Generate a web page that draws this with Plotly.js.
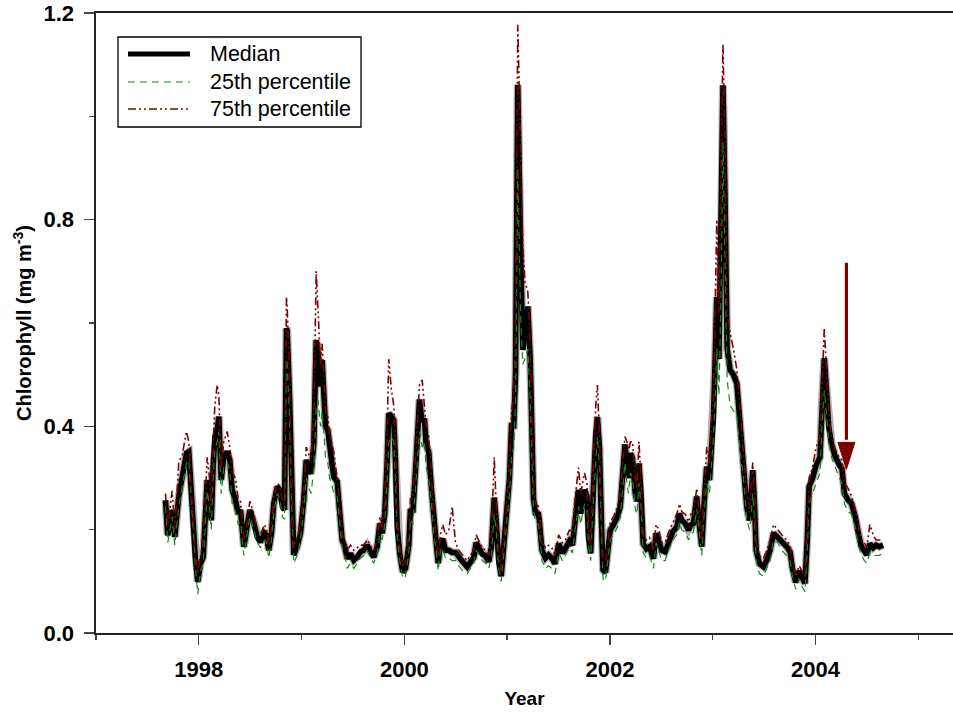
<!DOCTYPE html>
<html>
<head>
<meta charset="utf-8">
<script src="https://cdn.plot.ly/plotly-3.0.1.min.js"></script>
<style>
html,body{margin:0;padding:0;background:#fff;}
#chart{width:953px;height:713px;}
</style>
</head>
<body>
<div id="chart"></div>
<script>
// ---- Data ----
const years = [
1997.676,1997.698,1997.741,1997.767,1997.805,1997.839,1997.880,1997.903,1997.936,1997.968,
1997.990,1998.017,1998.043,1998.065,1998.082,1998.104,1998.121,1998.140,1998.156,1998.179,
1998.195,1998.218,1998.243,1998.276,1998.302,1998.325,1998.357,1998.383,1998.406,1998.438,
1998.464,1998.496,1998.529,1998.568,1998.600,1998.639,1998.659,1998.681,1998.707,1998.730,
1998.763,1998.788,1998.814,1998.834,1998.853,1998.860,1998.882,1998.902,1998.924,1998.957,
1998.989,1999.021,1999.045,1999.070,1999.093,1999.119,1999.142,1999.161,1999.184,1999.200,
1999.216,1999.233,1999.255,1999.272,1999.291,1999.313,1999.346,1999.369,1999.395,1999.420,
1999.444,1999.476,1999.508,1999.541,1999.573,1999.605,1999.638,1999.670,1999.702,1999.735,
1999.761,1999.784,1999.809,1999.833,1999.848,1999.874,1999.897,1999.913,1999.930,1999.955,
1999.984,2000.011,2000.043,2000.059,2000.082,2000.108,2000.147,2000.173,2000.195,2000.212,
2000.237,2000.264,2000.286,2000.309,2000.329,2000.351,2000.374,2000.400,2000.432,2000.465,
2000.497,2000.529,2000.568,2000.611,2000.643,2000.675,2000.698,2000.724,2000.757,2000.789,
2000.821,2000.847,2000.874,2000.893,2000.918,2000.942,2000.967,2001.000,2001.022,2001.042,
2001.064,2001.081,2001.103,2001.130,2001.152,2001.173,2001.201,2001.224,2001.239,2001.256,
2001.275,2001.304,2001.313,2001.338,2001.373,2001.402,2001.434,2001.465,2001.501,2001.538,
2001.567,2001.606,2001.635,2001.660,2001.694,2001.715,2001.752,2001.776,2001.791,2001.812,
2001.841,2001.862,2001.878,2001.898,2001.915,2001.932,2001.956,2001.981,2002.002,2002.034,
2002.073,2002.100,2002.125,2002.146,2002.165,2002.180,2002.199,2002.219,2002.246,2002.262,
2002.282,2002.301,2002.323,2002.355,2002.384,2002.407,2002.423,2002.449,2002.475,2002.504,
2002.537,2002.569,2002.611,2002.650,2002.676,2002.698,2002.732,2002.764,2002.786,2002.812,
2002.844,2002.871,2002.893,2002.916,2002.941,2002.968,2002.990,2003.007,2003.023,2003.039,
2003.060,2003.080,2003.099,2003.119,2003.140,2003.169,2003.201,2003.234,2003.267,2003.299,
2003.331,2003.357,2003.377,2003.389,2003.406,2003.422,2003.454,2003.493,2003.525,2003.558,
2003.591,2003.629,2003.671,2003.720,2003.753,2003.775,2003.807,2003.840,2003.868,2003.897,
2003.919,2003.937,2003.970,2004.006,2004.043,2004.062,2004.085,2004.104,2004.128,2004.155,
2004.192,2004.232,2004.257,2004.281,2004.317,2004.349,2004.386,2004.419,2004.446,2004.475,
2004.498,2004.528,2004.560,2004.588,2004.619,2004.657
];

const median = [
.257,.189,.238,.186,.264,.302,.348,.351,.231,.141,
.099,.134,.147,.231,.296,.264,.218,.322,.380,.393,
.419,.296,.341,.351,.335,.277,.257,.231,.238,.167,
.193,.238,.218,.186,.176,.193,.189,.160,.193,.251,
.283,.277,.244,.238,.590,.585,.464,.270,.151,.167,
.193,.257,.335,.315,.309,.367,.567,.541,.477,.528,
.451,.399,.393,.354,.335,.302,.293,.238,.180,.167,
.144,.154,.141,.147,.157,.160,.170,.157,.147,.167,
.212,.193,.231,.335,.425,.419,.412,.335,.205,.154,
.118,.125,.170,.240,.233,.313,.452,.408,.415,.364,
.350,.277,.211,.175,.135,.175,.182,.160,.160,.156,
.156,.146,.138,.128,.138,.146,.175,.167,.153,.149,
.138,.167,.262,.218,.138,.110,.167,.240,.299,.401,
.401,.500,1.061,.750,.548,.580,.632,.530,.380,.260,
.232,.230,.218,.160,.145,.151,.145,.134,.173,.155,
.164,.178,.170,.225,.277,.231,.277,.265,.186,.154,
.300,.386,.418,.357,.228,.122,.117,.165,.199,.209,
.225,.245,.305,.365,.320,.300,.348,.338,.270,.255,
.328,.274,.173,.163,.167,.154,.144,.193,.180,.160,
.157,.176,.196,.205,.231,.218,.212,.199,.209,.212,
.264,.205,.167,.251,.322,.296,.367,.419,.530,.650,
.530,.750,1.060,.850,.550,.509,.500,.483,.393,.328,
.244,.218,.270,.315,.250,.160,.134,.128,.141,.160,
.193,.187,.177,.167,.157,.125,.098,.120,.107,.096,
.180,.283,.299,.325,.340,.448,.532,.477,.400,.366,
.341,.325,.318,.270,.257,.251,.225,.190,.167,.159,
.151,.173,.165,.170,.167,.170
];

const p25 = [
.245,.175,.225,.170,.245,.285,.330,.335,.215,.125,
.075,.120,.135,.215,.275,.245,.200,.300,.355,.370,
.390,.270,.320,.330,.315,.250,.235,.210,.215,.150,
.180,.225,.205,.175,.165,.180,.175,.145,.180,.235,
.270,.260,.225,.220,.530,.520,.420,.250,.135,.150,
.180,.240,.300,.280,.270,.320,.440,.450,.400,.430,
.390,.340,.330,.300,.290,.270,.265,.220,.165,.150,
.125,.135,.125,.135,.145,.150,.160,.145,.135,.155,
.190,.180,.210,.300,.370,.380,.370,.300,.185,.140,
.105,.110,.155,.220,.210,.280,.390,.360,.370,.320,
.300,.250,.190,.160,.120,.160,.165,.145,.145,.140,
.140,.130,.120,.115,.125,.135,.160,.150,.140,.135,
.125,.150,.230,.200,.125,.100,.150,.220,.270,.340,
.360,.450,.900,.620,.520,.530,.550,.450,.330,.240,
.215,.210,.200,.140,.125,.130,.125,.115,.155,.140,
.150,.165,.155,.200,.245,.210,.250,.240,.170,.140,
.270,.340,.380,.320,.200,.105,.100,.150,.180,.190,
.205,.225,.280,.330,.290,.270,.310,.300,.240,.230,
.290,.250,.155,.145,.150,.135,.125,.175,.160,.140,
.140,.160,.180,.190,.215,.200,.195,.180,.190,.195,
.240,.190,.150,.230,.290,.270,.330,.380,.450,.550,
.460,.650,.950,.700,.490,.440,.430,.420,.350,.300,
.220,.200,.240,.270,.220,.140,.115,.110,.125,.140,
.180,.175,.160,.150,.140,.110,.085,.105,.090,.080,
.160,.250,.270,.290,.310,.400,.470,.430,.370,.340,
.320,.300,.290,.250,.235,.230,.205,.170,.150,.140,
.135,.155,.150,.150,.150,.155
];

const p75 = [
.270,.205,.275,.200,.330,.345,.390,.370,.245,.150,
.115,.150,.180,.270,.340,.300,.245,.370,.440,.480,
.460,.320,.370,.390,.360,.310,.300,.260,.255,.180,
.205,.255,.235,.200,.190,.210,.200,.170,.205,.265,
.290,.285,.255,.250,.650,.630,.500,.290,.165,.185,
.210,.270,.360,.345,.340,.420,.700,.620,.520,.560,
.500,.430,.420,.380,.370,.350,.300,.250,.190,.180,
.160,.170,.160,.165,.170,.170,.180,.170,.160,.180,
.225,.205,.250,.400,.530,.470,.440,.360,.220,.165,
.130,.140,.190,.260,.260,.340,.480,.490,.440,.400,
.380,.300,.230,.190,.150,.190,.210,.190,.200,.245,
.175,.160,.150,.140,.150,.160,.190,.180,.165,.160,
.150,.190,.340,.250,.150,.120,.180,.260,.330,.430,
.460,.600,1.177,.950,.750,.680,.660,.560,.420,.290,
.250,.245,.230,.175,.165,.170,.165,.150,.190,.175,
.180,.200,.190,.260,.320,.270,.310,.290,.200,.170,
.340,.440,.480,.380,.245,.135,.130,.180,.215,.225,
.245,.270,.340,.380,.370,.350,.370,.370,.300,.280,
.370,.300,.190,.180,.185,.170,.160,.210,.200,.175,
.175,.195,.215,.230,.250,.235,.230,.215,.230,.230,
.280,.220,.180,.270,.360,.330,.420,.450,.600,.800,
.620,.850,1.140,.950,.620,.580,.550,.510,.430,.360,
.270,.240,.290,.330,.270,.175,.150,.145,.160,.180,
.210,.200,.190,.180,.170,.135,.110,.130,.120,.110,
.200,.300,.320,.360,.380,.480,.590,.520,.430,.380,
.355,.340,.335,.290,.280,.265,.240,.205,.180,.175,
.165,.210,.190,.180,.180,.180
];

const seriesNames = ['Median', '25th percentile', '75th percentile'];
const xTickVals = [1998, 2000, 2002, 2004];
const xMinorVals = [1997, 1999, 2001, 2003, 2005];
const yTickVals = [0, 0.4, 0.8, 1.2];
const yTickText = ['0.0', '0.4', '0.8', '1.2'];
const yMinorVals = [0.2, 0.6, 1.0];
const arrowYear = 2004.30, arrowTop = 0.7165, arrowTip = 0.3167;

// ---- Styles ----
const colMedian = '#000000', col25 = '#138a13', col75 = '#800000';
const dash25 = '7px,5px';
const dash75 = '8px,3px,2px,3px,2px,3px';
const FONT = 'Liberation Sans, Arial, Helvetica, sans-serif';

const W = 953, H = 713;
const M = {l: 96, r: 0, t: 13, b: 80};
const plotW = W - M.l - M.r, plotH = H - M.t - M.b;
const pxX = px => (px - M.l) / plotW;       // page px -> paper x
const pxY = py => (H - M.b - py) / plotH;   // page px -> paper y

const traces = [
  {x: years, y: median, mode: 'lines', line: {color: 'rgba(0,0,0,0.3)', width: 8}, hoverinfo: 'skip', showlegend: false},
  {x: years, y: median, mode: 'lines', name: seriesNames[0], line: {color: colMedian, width: 5.5}, showlegend: false},
  {x: years, y: p25, mode: 'lines', name: seriesNames[1], line: {color: col25, width: 1.2, dash: dash25}, showlegend: false},
  {x: years, y: p75, mode: 'lines', name: seriesNames[2], line: {color: col75, width: 1.6, dash: dash75}, showlegend: false}
];

// manual legend (box + samples + labels)
const legRowsPx = [54, 82, 109];
const legStyles = [
  {color: colMedian, width: 5, dash: 'solid'},
  {color: col25, width: 1.2, dash: dash25},
  {color: col75, width: 1.6, dash: dash75}
];
const shapes = [
  {type: 'rect', xref: 'paper', yref: 'paper', x0: pxX(118), x1: pxX(361), y0: pxY(127), y1: pxY(37),
   line: {color: '#000', width: 1.3}, fillcolor: 'rgba(255,255,255,0)'}
];
legRowsPx.forEach((py, i) => {
  shapes.push({type: 'line', xref: 'paper', yref: 'paper', x0: pxX(128), x1: pxX(190), y0: pxY(py), y1: pxY(py), line: legStyles[i]});
});
// arrow
const headHalf = 8.5 / (plotW / 8.337);
const headBase = arrowTip + 27 / (plotH / 1.2);
shapes.push({type: 'line', xref: 'x', yref: 'y', x0: arrowYear, x1: arrowYear, y0: arrowTop, y1: headBase + 0.005,
  line: {color: col75, width: 3.2}});
shapes.push({type: 'path', xref: 'x', yref: 'y',
  path: `M${arrowYear - headHalf},${headBase} L${arrowYear + headHalf},${headBase} L${arrowYear},${arrowTip} Z`,
  fillcolor: col75, line: {color: col75, width: 1}});

const annotations = legRowsPx.map((py, i) => ({
  xref: 'paper', yref: 'paper', x: pxX(208), y: pxY(py), xanchor: 'left', yanchor: 'middle',
  text: seriesNames[i], showarrow: false, font: {family: FONT, size: 21.5, color: '#000'}
}));

const layout = {
  width: W, height: H,
  margin: M,
  paper_bgcolor: '#fff', plot_bgcolor: '#fff',
  showlegend: false,
  font: {family: FONT, color: '#000'},
  xaxis: {
    range: [1997, 1997 + 8.337], showgrid: false, zeroline: false,
    showline: true, linecolor: '#222', linewidth: 1.6, mirror: true,
    ticks: 'outside', ticklen: 10, tickwidth: 1.4, tickcolor: '#444',
    tickmode: 'array', tickvals: xTickVals, ticktext: xTickVals.map(String),
    tickfont: {family: FONT, size: 22, weight: 'bold', color: '#000'},
    ticklabelstandoff: 6,
    minor: {tickmode: 'array', tickvals: xMinorVals, ticks: 'outside', ticklen: 5, tickwidth: 1.4, tickcolor: '#444'},
    title: {text: 'Year', font: {family: FONT, size: 19, weight: 'bold', color: '#000'}, standoff: 10}
  },
  yaxis: {
    range: [0, 1.2], showgrid: false, zeroline: false,
    showline: true, linecolor: '#222', linewidth: 1.6,
    ticks: 'outside', ticklen: 10, tickwidth: 1.4, tickcolor: '#444',
    tickmode: 'array', tickvals: yTickVals, ticktext: yTickText,
    tickfont: {family: FONT, size: 22, weight: 'bold', color: '#000'},
    ticklabelstandoff: 6,
    minor: {tickmode: 'array', tickvals: yMinorVals, ticks: 'outside', ticklen: 5, tickwidth: 1.4, tickcolor: '#444'},
    title: {text: 'Chlorophyll (mg m<sup>-3</sup>)', font: {family: FONT, size: 20, weight: 'bold', color: '#000'}, standoff: 6}
  },
  shapes: shapes,
  annotations: annotations
};

Plotly.newPlot('chart', traces, layout, {staticPlot: true, displayModeBar: false});
</script>
</body>
</html>
